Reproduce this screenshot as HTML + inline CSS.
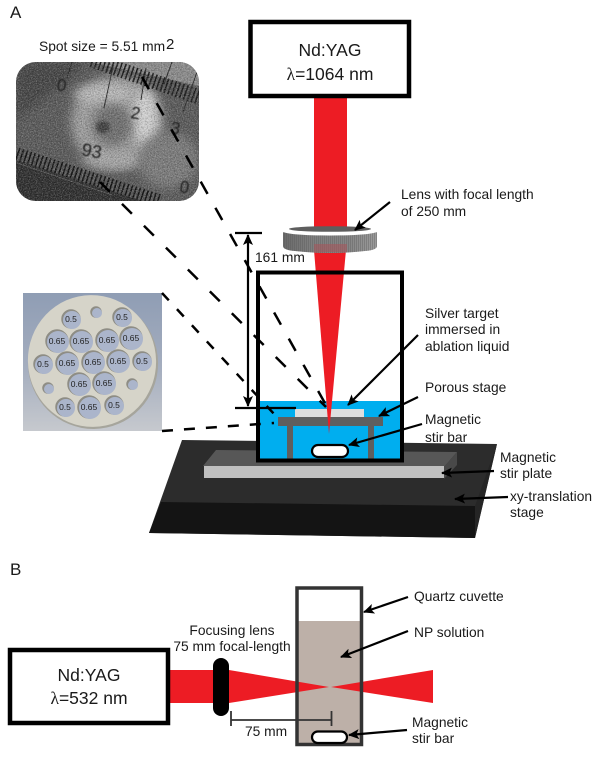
<!DOCTYPE html>
<html><head><meta charset="utf-8">
<style>
html,body{margin:0;padding:0;background:#fff;width:600px;height:769px;overflow:hidden}
svg{display:block}
text{font-family:"Liberation Sans",sans-serif;fill:#1a1a1a}
.l{font-size:13.8px}
.t{font-size:17.5px;text-anchor:middle}
.lam{font-family:"Liberation Serif",serif}
.h{fill:#222;text-anchor:middle;font-size:8.5px}
.n{font-size:17px;fill:#222}
</style></head><body>
<svg width="600" height="769" viewBox="0 0 600 769" xmlns="http://www.w3.org/2000/svg">
<defs>
<marker id="a" markerWidth="11" markerHeight="10" refX="10" refY="5" orient="auto" markerUnits="userSpaceOnUse"><path d="M0 0L11 5L0 10L2.500 5Z" fill="#000"/></marker>
<filter id="noise" x="0" y="0" width="100%" height="100%"><feTurbulence type="fractalNoise" baseFrequency="0.85" numOctaves="2" seed="4"/><feColorMatrix values="0 0 0 0 1 0 0 0 0 1 0 0 0 0 1 2.4 0 0 0 -1"/></filter>
<filter id="noised" x="0" y="0" width="100%" height="100%"><feTurbulence type="fractalNoise" baseFrequency="0.7" numOctaves="2" seed="11"/><feColorMatrix values="0 0 0 0 0 0 0 0 0 0 0 0 0 0 0 2.4 0 0 0 -1"/></filter>
<filter id="b1" x="-30%" y="-30%" width="160%" height="160%"><feGaussianBlur stdDeviation="5"/></filter>
<filter id="b2" x="-30%" y="-30%" width="160%" height="160%"><feGaussianBlur stdDeviation="1.6"/></filter>
<filter id="b0"><feGaussianBlur stdDeviation="0.4"/></filter>
<clipPath id="ph"><rect x="16" y="62" width="183" height="139" rx="20"/></clipPath>
<linearGradient id="bg" x1="0" y1="0" x2="0" y2="1"><stop offset="0" stop-color="#8f9db4"/><stop offset=".55" stop-color="#a5aebf"/><stop offset="1" stop-color="#c6c9ce"/></linearGradient>
<linearGradient id="lg" x1="0" y1="0" x2="1" y2="0"><stop offset="0" stop-color="#6a6a6a"/><stop offset=".3" stop-color="#7f7f7f"/><stop offset=".7" stop-color="#868686"/><stop offset="1" stop-color="#9c9c9c"/></linearGradient>
<pattern id="hatch" width="2" height="20" patternUnits="userSpaceOnUse"><rect width="1" height="20" fill="#555" opacity=".35"/></pattern>
<g id="holes">
<circle cx="71" cy="319" r="9"/><circle cx="96" cy="312" r="5"/><circle cx="122" cy="317" r="9"/>
<circle cx="57" cy="341" r="11"/><circle cx="81" cy="341" r="11"/><circle cx="107" cy="340" r="11"/><circle cx="131" cy="338" r="11"/>
<circle cx="43" cy="364" r="9"/><circle cx="67" cy="363" r="11"/><circle cx="93" cy="362" r="11"/><circle cx="118" cy="361" r="11"/><circle cx="142" cy="361" r="9"/>
<circle cx="79" cy="384" r="11"/><circle cx="104" cy="383" r="11"/>
<circle cx="48" cy="388" r="5"/><circle cx="132" cy="384" r="5"/>
<circle cx="65" cy="407" r="9"/><circle cx="89" cy="407" r="11"/><circle cx="114" cy="405" r="9"/>
</g>
</defs>

<text x="10" y="18" style="font-size:17px">A</text>
<text x="10" y="575" style="font-size:17px">B</text>
<text x="39" y="51" style="font-size:13.800px">Spot size = 5.51 mm</text>
<text x="166" y="49" style="font-size:15px">2</text>

<!-- micrograph -->
<g clip-path="url(#ph)">
<rect x="16" y="62" width="183" height="139" fill="#5a5a5a"/>
<path d="M16 62H90L16 120Z" fill="#444" filter="url(#b1)"/>
<ellipse cx="117" cy="122" rx="46" ry="47" fill="#a0a0a0" filter="url(#b1)"/>
<ellipse cx="145" cy="118" rx="12" ry="28" fill="#d4d4d4" filter="url(#b1)"/>
<ellipse cx="104" cy="94" rx="30" ry="9" fill="#bdbdbd" filter="url(#b1)"/>
<ellipse cx="112" cy="160" rx="30" ry="8" fill="#a8a8a8" filter="url(#b1)"/>
<ellipse cx="112" cy="125" rx="20" ry="21" fill="#707070" filter="url(#b1)"/>
<ellipse cx="103" cy="127" rx="7" ry="6" fill="#404040" filter="url(#b2)"/>
<ellipse cx="168" cy="160" rx="30" ry="28" fill="#7c7c7c" filter="url(#b1)"/>
<path d="M90 62H199V86Z" fill="#8c8c8c"/>
<path d="M16 160L170 210H16Z" fill="#2f2f2f" filter="url(#b0)"/>
<line x1="92" y1="60" x2="199" y2="97" stroke="#1a1a1a" stroke-width="15" stroke-dasharray="1.6 2.500"/>
<line x1="17" y1="154" x2="160" y2="201" stroke="#111" stroke-width="13" stroke-dasharray="1.6 2.500"/>
<path d="M17 163L112 195" stroke="#888" stroke-width=".8" opacity=".5"/>
<path d="M72 62L67 78M114 62L104 108M146 68L141 100M172 62L164 84M197 72L183 112" stroke="#2a2a2a" stroke-width="1" fill="none"/>
<rect x="16" y="62" width="183" height="139" filter="url(#noise)" opacity=".32"/>
<rect x="16" y="62" width="183" height="139" filter="url(#noised)" opacity=".28"/>
<g filter="url(#b0)">
<text class="n" x="57" y="91" transform="rotate(10 62 85)">0</text>
<text class="n" x="131" y="119" transform="rotate(10 137 113)">2</text>
<text class="n" x="171" y="134" transform="rotate(10 177 127)">3</text>
<text class="n" x="82" y="157" style="font-size:18px" transform="rotate(10 92 150)">93</text>
<text class="n" x="180" y="193" transform="rotate(10 186 186)">0</text>
</g>
</g>

<!-- plate -->
<rect x="23" y="293" width="139" height="138" fill="url(#bg)"/>
<ellipse cx="93" cy="363" rx="65" ry="66" fill="#a6a59c" transform="rotate(-12 93 363)"/>
<ellipse cx="92" cy="361" rx="64" ry="66" fill="#d6d4c9" transform="rotate(-12 92 361)"/>
<use href="#holes" fill="#8e8d85" stroke="#8e8d85" stroke-width="1.5"/>
<use href="#holes" fill="#abb5cb" transform="translate(1,1)"/>
<g>
<text class="h" x="71" y="322">0.5</text><text class="h" x="122" y="320">0.5</text>
<text class="h" x="57" y="344">0.65</text><text class="h" x="81" y="344">0.65</text><text class="h" x="107" y="343">0.65</text><text class="h" x="131" y="341">0.65</text>
<text class="h" x="43" y="367">0.5</text><text class="h" x="67" y="366">0.65</text><text class="h" x="93" y="365">0.65</text><text class="h" x="118" y="364">0.65</text><text class="h" x="142" y="364">0.5</text>
<text class="h" x="79" y="387">0.65</text><text class="h" x="104" y="386">0.65</text>
<text class="h" x="65" y="410">0.5</text><text class="h" x="89" y="410">0.65</text><text class="h" x="114" y="408">0.5</text>
</g>

<!-- stage -->
<polygon points="182,440 497,444 475,538 149,533" fill="#2c2c2c"/>
<polygon points="497,444 475,506 475,538" fill="#252525"/>
<polygon points="161,502 475,506 475,538 149,533" fill="#141414"/>
<polygon points="216,450 457,452 444,467 203,466" fill="#575757"/>
<polygon points="457,452 457,465 444,479 444,467" fill="#494949"/>
<rect x="204" y="466" width="240" height="12" fill="#c0c0c0"/>

<!-- cuvette A -->
<rect x="258" y="401" width="144" height="59" fill="#00aeef"/>
<rect x="295" y="409" width="69" height="8" fill="#dedede"/>
<rect x="278" y="417" width="105" height="9" fill="#5f5f5f"/>
<rect x="287" y="426" width="6" height="34" fill="#5f5f5f"/>
<rect x="368" y="426" width="6" height="34" fill="#5f5f5f"/>
<rect x="312" y="445" width="36" height="12" rx="6" fill="#fff" stroke="#000" stroke-width="2.200"/>

<!-- beam A -->
<rect x="314" y="98" width="33" height="132" fill="#ed1c24"/>
<polygon points="314,250 346,250 329,434" fill="#ed1c24"/>

<!-- lens -->
<path d="M283 233Q283 230 300 229H360Q377 230 377 233V246Q377 250 365 251Q330 255 295 251Q283 250 283 246Z" fill="url(#lg)"/>
<path d="M283 233Q283 230 300 229H360Q377 230 377 233V246Q377 250 365 251Q330 255 295 251Q283 250 283 246Z" fill="url(#hatch)"/>
<rect x="314" y="244" width="33" height="8" fill="#a5565c" opacity=".6"/>
<ellipse cx="330" cy="231.500" rx="47" ry="4" fill="#fff"/>
<ellipse cx="330" cy="229" rx="41" ry="2.800" fill="#5e5e5e"/>
<rect x="258" y="272.500" width="144" height="188" fill="none" stroke="#000" stroke-width="4"/>

<!-- laser A -->
<rect x="250.500" y="22" width="158.500" height="74" fill="#fff" stroke="#000" stroke-width="4.500"/>
<text class="t" x="330" y="56">Nd:YAG</text>
<text class="t" x="330" y="80"><tspan class="lam">λ</tspan>=1064 nm</text>

<!-- dashed -->
<g stroke="#000" stroke-width="2.500" fill="none">
<line x1="142" y1="77" x2="326" y2="405" stroke-dasharray="14 16"/>
<line x1="100" y1="182" x2="326" y2="407" stroke-dasharray="14 17"/>
<line x1="162" y1="293" x2="275" y2="415" stroke-dasharray="10 12"/>
<line x1="162" y1="431" x2="274" y2="423" stroke-dasharray="11 11"/>
</g>

<!-- dimension -->
<g stroke="#000" stroke-width="2.200" fill="none">
<line x1="235" y1="233" x2="262" y2="233"/>
<line x1="235" y1="408" x2="296" y2="408"/>
<line x1="248" y1="320" x2="248" y2="406" marker-end="url(#a)"/>
<line x1="248" y1="320" x2="248" y2="235" marker-end="url(#a)"/>
</g>
<text class="l" x="255" y="262">161 mm</text>

<!-- arrows A -->
<g stroke="#000" stroke-width="2.200" fill="none">
<line x1="390" y1="202" x2="355" y2="230" marker-end="url(#a)"/>
<line x1="418" y1="335" x2="348" y2="405" marker-end="url(#a)"/>
<line x1="418" y1="397" x2="379" y2="416" marker-end="url(#a)"/>
<line x1="422" y1="424" x2="349" y2="445" marker-end="url(#a)"/>
<line x1="494" y1="471" x2="442" y2="473" marker-end="url(#a)"/>
<line x1="508" y1="497" x2="455" y2="499" marker-end="url(#a)"/>
</g>

<text class="l" x="401" y="199">Lens with focal length</text>
<text class="l" x="401" y="216">of 250 mm</text>
<text class="l" x="425" y="318">Silver target</text>
<text class="l" x="425" y="334">immersed in</text>
<text class="l" x="425" y="351">ablation liquid</text>
<text class="l" x="425" y="392">Porous stage</text>
<text class="l" x="425" y="424">Magnetic</text>
<text class="l" x="425" y="442">stir bar</text>
<text class="l" x="500" y="462">Magnetic</text>
<text class="l" x="500" y="478">stir plate</text>
<text class="l" x="510" y="501">xy-translation</text>
<text class="l" x="510" y="517">stage</text>

<!-- B -->
<rect x="297" y="621" width="65" height="123" fill="#bdb0a8"/>
<rect x="170" y="670" width="45" height="33" fill="#ed1c24"/>
<polygon points="229,670 229,703 329,687" fill="#ed1c24"/>
<polygon points="331,687 433,670 433,703" fill="#ed1c24"/>
<rect x="297" y="588" width="64.500" height="156.500" fill="none" stroke="#333" stroke-width="3.500"/>
<rect x="213" y="658" width="16" height="58" rx="8" fill="#000"/>
<rect x="10" y="650" width="158" height="73" fill="#fff" stroke="#000" stroke-width="4.500"/>
<text class="t" x="89" y="681">Nd:YAG</text>
<text class="t" x="89" y="704"><tspan class="lam">λ</tspan>=532 nm</text>
<g stroke="#333" stroke-width="1.800" fill="none">
<line x1="231" y1="711" x2="231" y2="726"/>
<line x1="231" y1="720" x2="331" y2="720"/>
<line x1="331.500" y1="711" x2="331.500" y2="726"/>
</g>
<text class="l" x="245" y="736">75 mm</text>
<text class="l" x="232" y="635" text-anchor="middle">Focusing lens</text>
<text class="l" x="232" y="651" text-anchor="middle">75 mm focal-length</text>
<rect x="312" y="731.500" width="35" height="11.500" rx="5.700" fill="#fff" stroke="#000" stroke-width="2.200"/>
<g stroke="#000" stroke-width="2.200" fill="none">
<line x1="408" y1="597" x2="364" y2="612" marker-end="url(#a)"/>
<line x1="408" y1="631" x2="341" y2="657" marker-end="url(#a)"/>
<line x1="407" y1="730" x2="349" y2="735" marker-end="url(#a)"/>
</g>
<text class="l" x="414" y="601">Quartz cuvette</text>
<text class="l" x="414" y="637">NP solution</text>
<text class="l" x="412" y="727">Magnetic</text>
<text class="l" x="412" y="743">stir bar</text>
</svg>
</body></html>
